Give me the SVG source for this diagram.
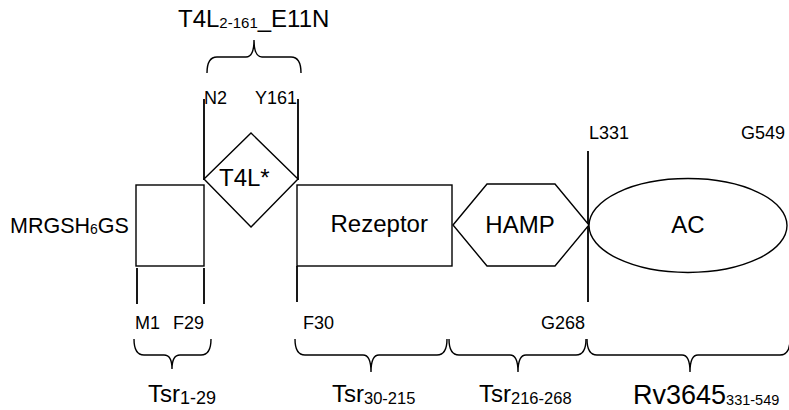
<svg xmlns="http://www.w3.org/2000/svg" width="789" height="410" viewBox="0 0 789 410">
<defs>
<style>
.s{fill:none;stroke:#000;stroke-width:1.4}
.v{fill:none;stroke:#000;stroke-width:1.8}
.n{fill:#fff;stroke:#000;stroke-width:1.4}
text{font-family:"Liberation Sans",Arial,sans-serif;fill:#000}
.big{font-size:24px}
.lab{font-size:18px}
.sub{font-size:16.5px}
</style>
</defs>
<rect width="789" height="410" fill="#fff"/>
<g id="connectors">
<path class="v" d="M204,99V180M298,99V180"/>
<path class="v" d="M137,268V304M204,268V304M297,266V302"/>
<path class="v" d="M588,151V302"/>
<path class="s" d="M207,73Q207,57 217,57L246,57Q254,57 254,40Q254,57 262,57L291,57Q301,57 301,73"/>
<path class="s" d="M134,339Q134,355 144,355L164,355Q172,355 172,369Q172,355 180,355L201,355Q211,355 211,339"/>
<path class="s" d="M295,339Q295,355 305,355L363,355Q371,355 371,372Q371,355 379,355L437,355Q447,355 447,339"/>
<path class="s" d="M449,339Q449,355 459,355L510,355Q518,355 518,372Q518,355 526,355L576,355Q586,355 586,339"/>
<path class="s" d="M587,339Q587,355 597,355L682,355Q690,355 690,372Q690,355 698,355L780,355Q790,355 790,339"/>
</g>
<g id="title">
<text class="big" x="178" y="27">T4L<tspan font-size="15px" dy="1">2-161</tspan><tspan dy="-1">_E11N</tspan></text>
</g>
<g id="labels-top">
<text class="lab" x="204" y="104">N2</text>
<text class="lab" x="255" y="104">Y161</text>
<text class="lab" x="589" y="139">L331</text>
<text class="lab" x="741" y="139">G549</text>
</g>
<g id="tag">
<text x="10" y="233" font-size="21.5px">MRGSH<tspan font-size="14px" dy="1">6</tspan><tspan dy="-1">GS</tspan></text>
</g>
<g id="box1">
<rect class="n" x="136" y="185" width="68" height="81"/>
</g>
<g id="t4l">
<polygon class="n" points="204,179 251,133 298,179 251,227"/>
<text class="big" x="219" y="186">T4L*</text>
</g>
<g id="rezeptor">
<rect class="n" x="297" y="185" width="155" height="81"/>
<text class="big" x="330.5" y="232">Rezeptor</text>
</g>
<g id="hamp">
<polygon class="n" points="453,225 487,184 555,184 589,225 555,266 487,266"/>
<text class="big" x="520" y="233" text-anchor="middle">HAMP</text>
</g>
<g id="ac">
<ellipse class="n" cx="688" cy="225.5" rx="99" ry="47"/>
<text class="big" x="688" y="233" text-anchor="middle">AC</text>
</g>
<g id="labels-bottom">
<text class="lab" x="135" y="329">M1</text>
<text class="lab" x="173" y="329">F29</text>
<text class="lab" x="303" y="329">F30</text>
<text class="lab" x="541" y="329">G268</text>
</g>
<g id="domains">
<text class="big" x="148" y="402">Tsr<tspan font-size="18px" dy="2">1-29</tspan></text>
<text class="big" x="332" y="402">Tsr<tspan class="sub" dy="2">30-215</tspan></text>
<text class="big" x="479" y="402">Tsr<tspan class="sub" dy="2">216-268</tspan></text>
<text x="633" y="404" font-size="27px">Rv3645<tspan font-size="14.5px" dy="1">331-549</tspan></text>
</g>
</svg>
